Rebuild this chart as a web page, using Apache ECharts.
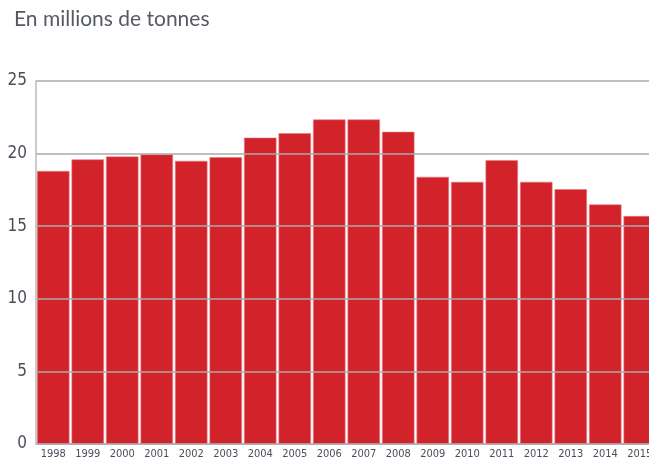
<!DOCTYPE html>
<html>
<head>
<meta charset="utf-8">
<script src="https://cdn.jsdelivr.net/npm/echarts@6/dist/echarts.min.js"></script>
<style>
  html, body { margin: 0; padding: 0; background: #fff; }
  #main { width: 649px; height: 463px; }
</style>
</head>
<body>
<div id="main"></div>
<script>
// années et tonnages (millions de tonnes)
var years = ['1998', '1999', '2000', '2001', '2002', '2003', '2004', '2005', '2006',
             '2007', '2008', '2009', '2010', '2011', '2012', '2013', '2014', '2015'];
var tonnes = [18.8, 19.6, 19.8, 19.95, 19.5, 19.75, 21.1, 21.4, 22.35,
              22.35, 21.5, 18.4, 18.05, 19.55, 18.05, 17.55, 16.5, 15.7];
var yTicks = [0, 5, 10, 15, 20, 25];

var condensed = '"DejaVu Sans Condensed", "Liberation Sans Narrow", sans-serif';

var myChart = echarts.init(document.getElementById('main'));

var option = {
  animation: false,
  title: {
    text: 'En millions de tonnes',
    left: 9,
    top: 4,
    textStyle: {
      fontFamily: 'Lato',
      fontSize: 21,
      fontWeight: 'normal',
      color: '#555a62'
    }
  },
  grid: {
    left: 36,
    width: 621,
    top: 81,
    bottom: 19,
    containLabel: false,
    outerBoundsMode: 'none'   // la dernière barre (2015) déborde à droite
  },
  xAxis: {
    type: 'category',
    data: years,
    axisLine: { lineStyle: { color: '#bbbbbb', width: 1.5 } },
    axisTick: { show: false },
    axisLabel: {
      interval: 0,
      margin: 5,
      fontFamily: condensed,
      fontSize: 11,
      color: '#4a4f5a'
    }
  },
  yAxis: {
    type: 'value',
    min: yTicks[0],
    max: yTicks[yTicks.length - 1],
    interval: 5,
    z: 5,
    axisLine: { show: true, lineStyle: { color: '#bbbbbb', width: 1.5 } },
    axisTick: { show: false },
    splitLine: { lineStyle: { color: '#aaaaaa', width: 1.5 } },
    axisLabel: {
      margin: 9,
      fontFamily: condensed,
      fontSize: 17,
      color: '#4a4f5a'
    }
  },
  series: [
    {
      type: 'bar',
      data: tonnes,
      barCategoryGap: '6%',
      itemStyle: {
        color: '#d2232b',
        borderColor: '#e07a80',
        borderWidth: 0.6
      }
    }
  ]
};
myChart.setOption(option);
</script>
</body>
</html>
